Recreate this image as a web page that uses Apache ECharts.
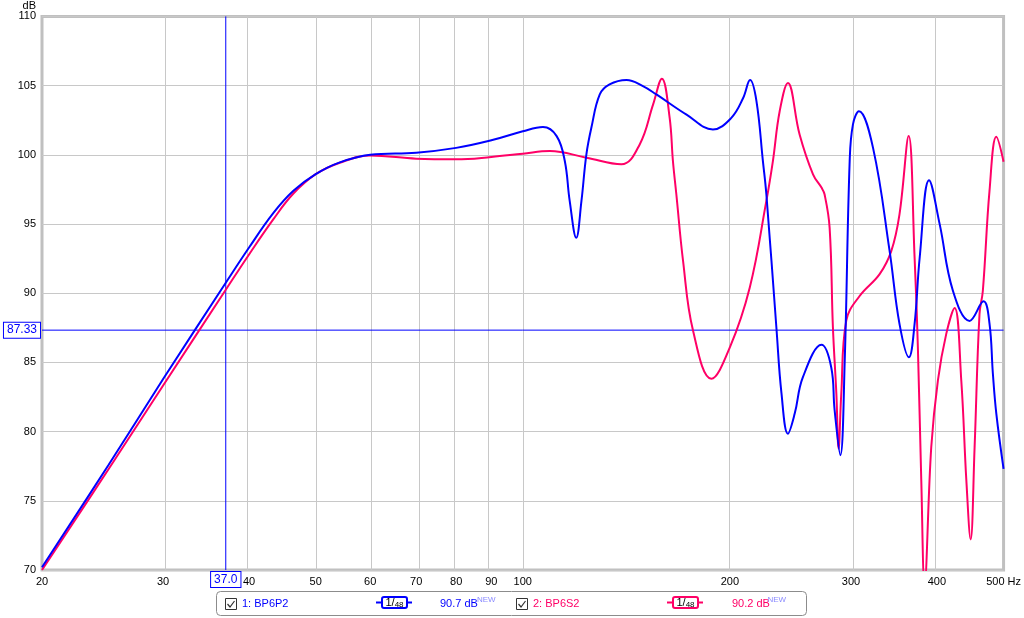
<!DOCTYPE html>
<html>
<head>
<meta charset="utf-8">
<script src="https://cdn.jsdelivr.net/npm/echarts@6.0.0/dist/echarts.min.js"></script>
<style>
  html, body { margin: 0; padding: 0; background: #fff; }
  #chart { width: 1024px; height: 618px; }
</style>
</head>
<body>
<div id="chart"></div>
<script>
// ---- data ----
const freqTicks = [20, 30, 40, 50, 60, 70, 80, 90, 100, 200, 300, 400, 500];
const dbMin = 70, dbMax = 110, dbStep = 5;

const seriesNames = ['1: BP6P2', '2: BP6S2'];

const blueFreq = [20,25,30,37,40,43.4,46.4,50,54.2,60,70,80,90,100,107,112,115.1,117,119.6,121.7,123.7,125.8,129.4,133.7,141.5,149.5,156.4,173,189,201,209.1,214,218.6,223.4,226,233.7,237.7,242.9,248.5,255.4,271.8,280.8,284,289.5,293.8,298.7,302,308.1,323,341.4,352.9,364.2,371.2,377.6,389.6,403.7,422,446.3,467.6,477,482.4,488,500];
const blueDb = [70.2,77.6,83.8,90.75,93.3,95.8,97.4,98.6,99.45,100.0,100.15,100.5,101.05,101.7,102.0,101.35,99.55,96.67,94.0,96.67,100.0,101.95,104.36,105.08,105.4,104.96,104.36,102.9,101.83,102.67,104.1,105.4,103.9,99.55,97.15,87.54,82.8,79.85,81.3,83.93,86.27,84.65,81.56,78.3,85.15,99.55,102.2,103.15,100.5,93.06,87.78,85.37,87.78,92.58,98.16,94.99,90.18,88.0,89.41,87.8,84.2,81.3,77.3];

const redFreq = [20,25,30,37,40,43.4,46.4,50,54.2,60,70,80,90,100,109.5,123.7,139.1,147.9,154.7,159.3,163.5,165.3,167.2,171,176.8,188,200,213.8,226,231,236.3,242.9,252.6,264.2,271.8,274.6,279.3,282.4,285.7,287.8,290.4,295.3,308.8,330.2,343.4,352.9,363.9,371.2,375.3,379.6,383.8,392.5,401.3,412.7,424.4,434,441.4,447.8,453.8,461.3,466.5,477,488,500];
const redDb = [70.0,77.3,83.33,90.25,92.8,95.35,97.2,98.6,99.43,99.95,99.72,99.67,99.84,100.08,100.27,99.79,99.31,100.75,103.64,105.5,102.67,99.55,97.15,92.34,87.3,83.82,86.09,90.42,96.67,99.55,103.15,105.19,101.47,98.59,97.63,97.15,94.74,87.54,82.7,78.77,82.7,88.02,89.8,91.38,93.06,95.7,101.35,92.58,86.09,76.49,69.0,78.89,83.69,87.06,88.93,83.69,76.49,72.21,78.89,88.5,90.18,97.39,101.3,99.5];

const cursorFreq = 37.0;
const cursorDb = 87.33;
const cursorReadings = [90.7, 90.2];
const smoothingLabel = ['1', '48'];

// ---- styles ----
const BLUE = '#0000ff';
const RED = '#ff0066';
const GRID = '#c8c8c8';
const FONT = 'Liberation Sans, Arial, sans-serif';

const lg = Math.log10;
const toPts = (fs, ds) => fs.map((f, i) => [lg(f), ds[i]]);
const xMin = lg(freqTicks[0]);
const xMax = lg(freqTicks[freqTicks.length - 1]);

const chart = echarts.init(document.getElementById('chart'), null, { renderer: 'canvas' });

const gridLines = freqTicks.slice(1, -1).map(f => ({
  xAxis: lg(f),
  lineStyle: { color: GRID, width: 1, type: 'solid' },
  label: { show: false }
}));

function checkbox(x, y) {
  return [
    { type: 'rect', shape: { x: x, y: y, width: 11, height: 11 }, style: { fill: '#fff', stroke: '#333', lineWidth: 1 } },
    { type: 'polyline', shape: { points: [[x + 2, y + 5.5], [x + 4.5, y + 8.5], [x + 9, y + 2.5]] }, style: { fill: null, stroke: '#333', lineWidth: 1.2 } }
  ];
}
function smoothIcon(x1, x2, cx, color) {
  return [
    { type: 'line', shape: { x1: x1, y1: 602.5, x2: x2, y2: 602.5 }, style: { stroke: color, lineWidth: 2 } },
    { type: 'rect', shape: { x: cx - 12.5, y: 597, width: 25, height: 11, r: 2 }, style: { fill: '#fff', stroke: color, lineWidth: 2 } },
    { type: 'text', x: cx, y: 603, style: {
        text: '{a|' + smoothingLabel[0] + '}{b|/}{c|' + smoothingLabel[1] + '}',
        align: 'center', verticalAlign: 'middle',
        rich: {
          a: { fontSize: 11, fontFamily: FONT, fill: '#000' },
          b: { fontSize: 11, fontFamily: FONT, fill: '#000' },
          c: { fontSize: 8, fontFamily: FONT, fill: '#000', padding: [3, 0, 0, 0] }
        } } }
  ];
}
function legendText(x, txt, color, size) {
  return { type: 'text', x: x, y: 604, style: { text: txt, fill: color, font: (size || 11) + 'px ' + FONT, verticalAlign: 'middle' } };
}

const graphics = [
  { type: 'rect', shape: { x: 216.5, y: 591.5, width: 590, height: 24, r: 4 }, style: { fill: '#fff', stroke: '#8c8c8c', lineWidth: 1 } },
  ...checkbox(225.5, 598.5),
  legendText(242, seriesNames[0], BLUE),
  ...smoothIcon(376, 412, 394.5, BLUE),
  legendText(440, cursorReadings[0].toFixed(1) + ' dB', BLUE),
  { type: 'text', x: 477, y: 600, style: { text: 'NEW', fill: '#8a8aff', font: '8px ' + FONT, verticalAlign: 'middle' } },
  ...checkbox(516.5, 598.5),
  legendText(533, seriesNames[1], RED),
  ...smoothIcon(667, 703, 685.5, RED),
  legendText(732, cursorReadings[1].toFixed(1) + ' dB', RED),
  { type: 'text', x: 767.5, y: 600, style: { text: 'NEW', fill: '#8a8aff', font: '8px ' + FONT, verticalAlign: 'middle' } }
];

const cursorLineStyle = { color: BLUE, width: 1, type: 'solid' };

const option = {
  animation: false,
  backgroundColor: '#fff',
  grid: { left: 42, right: 20, top: 15, bottom: 48, show: true, borderColor: '#c0c0c0', borderWidth: 3, backgroundColor: '#fff' },
  xAxis: {
    type: 'value',
    min: xMin,
    max: xMax,
    axisLine: { show: false },
    axisTick: { show: false },
    splitLine: { show: false },
    axisLabel: {
      customValues: freqTicks.map(lg),
      showMinLabel: true, showMaxLabel: true,
      margin: 6,
      color: '#000', fontSize: 11, fontFamily: FONT,
      formatter: v => {
        const f = Math.round(Math.pow(10, v));
        return f === freqTicks[freqTicks.length - 1] ? f + ' Hz' : String(f);
      }
    }
  },
  yAxis: {
    type: 'value',
    min: dbMin, max: dbMax, interval: dbStep,
    name: 'dB',
    nameLocation: 'end',
    nameGap: 4,
    nameTextStyle: { color: '#000', fontSize: 11, fontFamily: FONT, align: 'right', verticalAlign: 'bottom', padding: [0, 6, 0, 0] },
    axisLine: { show: false },
    axisTick: { show: false },
    splitLine: { show: true, lineStyle: { color: GRID, width: 1 } },
    axisLabel: { margin: 6, color: '#000', fontSize: 11, fontFamily: FONT }
  },
  series: [
    {
      name: 'grid',
      type: 'line',
      data: [],
      silent: true,
      z: 1,
      markLine: {
        silent: true,
        symbol: 'none',
        z: 1,
        animation: false,
        lineStyle: { color: GRID, width: 1, type: 'solid' },
        data: gridLines
      }
    },
    {
      name: 'cursorX',
      type: 'line',
      data: [[lg(cursorFreq), dbMin], [lg(cursorFreq), dbMax]],
      showSymbol: false,
      silent: true,
      z: 2,
      lineStyle: cursorLineStyle,
      itemStyle: { color: BLUE }
    },
    {
      name: 'cursorY',
      type: 'line',
      data: [[xMin, cursorDb], [xMax, cursorDb]],
      showSymbol: false,
      silent: true,
      z: 2,
      lineStyle: cursorLineStyle,
      itemStyle: { color: BLUE }
    },
    {
      name: seriesNames[0],
      type: 'line',
      data: toPts(blueFreq, blueDb),
      showSymbol: false,
      smooth: 0.4,
      clip: true,
      z: 4,
      lineStyle: { color: BLUE, width: 2 },
      itemStyle: { color: BLUE }
    },
    {
      name: seriesNames[1],
      type: 'line',
      data: toPts(redFreq, redDb),
      showSymbol: false,
      smooth: 0.4,
      clip: true,
      z: 3,
      lineStyle: { color: RED, width: 2 },
      itemStyle: { color: RED }
    }
  ],
  graphic: graphics
};

chart.setOption(option);

// cursor read-out boxes placed through the chart's own scales
const cursorPx = chart.convertToPixel({ gridIndex: 0 }, [lg(cursorFreq), cursorDb]);
const cornerPx = chart.convertToPixel({ gridIndex: 0 }, [xMin, dbMin]);
const boxStyle = {
  fill: BLUE, font: '12px ' + FONT, backgroundColor: '#fff',
  borderColor: BLUE, borderWidth: 1, padding: [2, 3, 1, 3]
};
chart.setOption({
  graphic: graphics.concat([
    { type: 'text', z: 100, x: cursorPx[0], y: cornerPx[1] + 2,
      style: Object.assign({ text: cursorFreq.toFixed(1), align: 'center', verticalAlign: 'top' }, boxStyle) },
    { type: 'text', z: 100, x: cornerPx[0] - 2, y: cursorPx[1],
      style: Object.assign({ text: cursorDb.toFixed(2), align: 'right', verticalAlign: 'middle' }, boxStyle) }
  ])
});
</script>
</body>
</html>
